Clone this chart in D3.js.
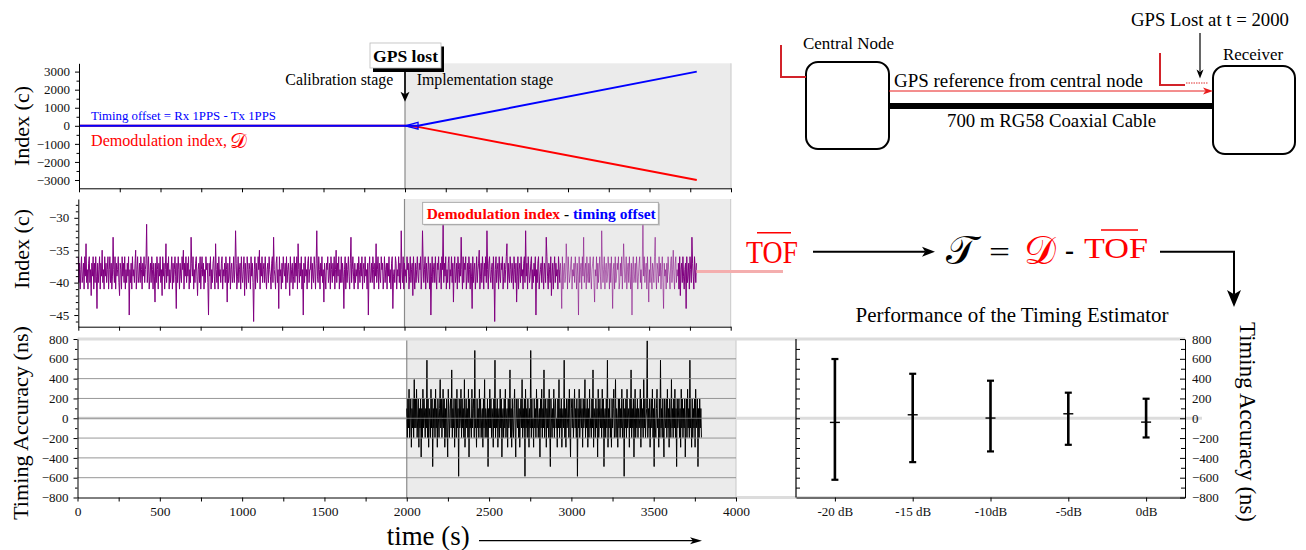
<!DOCTYPE html>
<html><head><meta charset="utf-8">
<script src="https://cdn.jsdelivr.net/npm/d3@7"></script>
<style>
html,body{margin:0;padding:0;background:#fff;}
svg{display:block;font-family:"Liberation Serif","Times New Roman",serif;}
</style></head><body>
<svg id="fig" width="1306" height="550"></svg>
<script>
// ---------------- data ----------------
const gpsLostAt = 2000;      // s, GPS reference removed
const runEnd = 3790;         // s, last recorded sample
const timeTicks = [0, 500, 1000, 1500, 2000, 2500, 3000, 3500, 4000];

// Top panel: timing offset (blue) and demodulation index (red), clock counts
const offsetT = [0, 2000, 2080, 3790];
const offsetV = [0, 0, 0, 3000];
const demodT  = [0, 2000, 2080, 3790];
const demodV  = [0, 0, -60, -3000];
const topTicks = [-3000, -2000, -1000, 0, 1000, 2000, 3000];

// Middle panel: demodulation index - timing offset (counts), evenly sampled over [0, runEnd]
const diffValues = [
-36,-40,-37,-41,-38,-36,-40,-39,-37,-41,-36,-39,-34,-40,-38,-41,-37,-36,-40,-38,-42,-37,-39,-36,
-41,-37,-40,-36,-39,-44,-37,-40,-38,-36,-41,-37,-39,-35,-40,-38,-41,-36,-39,-37,-40,-38,-36,-41,
-38,-36,-40,-37,-41,-39,-33,-38,-40,-36,-41,-37,-39,-38,-36,-40,-42,-37,-38,-41,-36,-39,-37,-40,
-36,-41,-38,-40,-37,-39,-36,-45,-38,-40,-37,-41,-36,-39,-38,-40,-37,-35,-41,-38,-36,-40,-39,-37,
-40,-36,-38,-41,-37,-39,-36,-40,-38,-37,-31,-40,-38,-36,-41,-39,-37,-40,-36,-38,-41,-37,-39,-43,
-37,-40,-36,-38,-41,-37,-39,-36,-40,-38,-42,-36,-39,-37,-41,-38,-34,-40,-37,-39,-36,-41,-38,-40,
-38,-36,-41,-37,-40,-38,-36,-39,-44,-37,-40,-36,-38,-41,-37,-39,-40,-36,-38,-35,-41,-37,-39,-36,
-40,-37,-39,-36,-41,-38,-40,-33,-37,-39,-36,-41,-38,-40,-37,-36,-39,-42,-38,-37,-40,-36,-41,-38,
-36,-39,-37,-41,-38,-40,-36,-38,-37,-40,-45,-37,-39,-36,-41,-38,-40,-37,-36,-39,-41,-34,-38,-40,
-37,-41,-36,-39,-38,-40,-37,-36,-41,-38,-39,-37,-40,-36,-38,-43,-37,-40,-39,-36,-41,-38,-37,-40,
-39,-36,-40,-38,-32,-37,-41,-39,-36,-40,-38,-37,-41,-36,-39,-40,-38,-36,-42,-37,-39,-41,-36,-38,
-40,-37,-38,-41,-36,-39,-37,-40,-46,-38,-36,-41,-37,-39,-40,-36,-38,-35,-41,-37,-39,-36,-40,-38,
-37,-40,-36,-39,-41,-38,-37,-40,-36,-38,-39,-41,-37,-36,-40,-33,-38,-39,-41,-37,-36,-40,-38,-44,
-36,-39,-38,-41,-37,-40,-36,-38,-39,-37,-41,-36,-40,-38,-37,-39,-42,-36,-40,-38,-37,-41,-39,-36,
-40,-37,-39,-36,-41,-34,-38,-40,-37,-39,-36,-41,-38,-45,-37,-40,-36,-39,-38,-41,-37,-36,-40,-38,
-38,-36,-41,-37,-39,-40,-36,-38,-41,-37,-32,-39,-40,-36,-38,-41,-37,-39,-36,-40,-38,-43,-37,-39,
-41,-37,-38,-36,-40,-39,-37,-41,-36,-38,-40,-37,-39,-36,-41,-38,-35,-40,-37,-39,-36,-41,-38,-40,
-36,-40,-37,-39,-44,-38,-36,-41,-37,-40,-38,-36,-39,-41,-37,-33,-40,-38,-36,-39,-41,-37,-40,-38,
-39,-37,-41,-36,-38,-40,-37,-39,-36,-41,-38,-37,-40,-36,-39,-38,-41,-37,-45,-38,-36,-40,-39,-37,
-40,-36,-38,-41,-37,-39,-34,-40,-38,-36,-41,-37,-39,-40,-36,-38,-37,-41,-39,-36,-40,-38,-37,-41,
-37,-39,-36,-40,-38,-41,-37,-36,-44,-39,-38,-40,-36,-37,-41,-38,-39,-36,-40,-37,-41,-32,-38,-40,
-36,-41,-37,-39,-38,-40,-36,-38,-37,-41,-39,-36,-40,-38,-37,-42,-36,-39,-41,-37,-40,-38,-36,-39,
-40,-37,-38,-36,-41,-39,-32,-37,-40,-38,-36,-41,-37,-39,-40,-36,-38,-41,-37,-45,-39,-36,-40,-38,
-37,-40,-36,-39,-41,-37,-38,-36,-40,-39,-37,-41,-36,-38,-31,-40,-37,-39,-36,-41,-38,-40,-37,-36,
-41,-38,-39,-36,-40,-37,-43,-38,-36,-40,-39,-37,-41,-36,-38,-40,-37,-39,-33,-38,-41,-36,-40,-37,
-38,-36,-41,-39,-37,-40,-36,-38,-41,-37,-39,-44,-36,-40,-38,-37,-41,-39,-36,-40,-38,-37,-35,-41,
-39,-37,-40,-36,-38,-41,-37,-39,-36,-40,-32,-38,-41,-37,-36,-39,-40,-38,-37,-41,-36,-39,-46,-38,
-36,-40,-38,-37,-41,-36,-39,-40,-37,-38,-36,-41,-39,-37,-40,-38,-36,-34,-41,-37,-39,-40,-36,-38,
-40,-37,-39,-41,-36,-38,-40,-37,-43,-39,-36,-41,-38,-37,-40,-36,-39,-38,-41,-37,-36,-40,-32,-39,
-37,-41,-36,-38,-40,-39,-37,-36,-41,-38,-40,-37,-39,-36,-45,-38,-40,-37,-36,-41,-39,-38,-37,-40,
-36,-39,-41,-37,-38,-40,-33,-36,-39,-41,-37,-38,-40,-36,-42,-39,-37,-41,-38,-36,-40,-37,-39,-38,
-41,-36,-38,-40,-37,-39,-44,-36,-41,-38,-37,-40,-39,-34,-37,-41,-36,-38,-40,-39,-37,-36,-41,-38,
-39,-37,-40,-36,-38,-41,-37,-39,-45,-36,-40,-38,-37,-41,-36,-39,-33,-40,-38,-37,-41,-36,-39,-40,
-37,-40,-36,-39,-41,-38,-37,-36,-40,-43,-38,-39,-36,-41,-37,-40,-38,-36,-39,-41,-32,-37,-40,-38,
-36,-41,-38,-37,-40,-39,-36,-38,-41,-37,-40,-36,-39,-44,-38,-37,-41,-36,-40,-39,-37,-38,-36,-41,
-40,-37,-39,-36,-41,-38,-34,-37,-40,-39,-36,-41,-38,-37,-40,-36,-39,-41,-37,-45,-38,-36,-40,-39,
-37,-40,-36,-38,-41,-39,-37,-36,-40,-38,-41,-37,-29,-39,-36,-40,-38,-37,-41,-36,-39,-43,-38,-40,
-36,-39,-41,-37,-38,-40,-36,-33,-39,-41,-37,-38,-40,-36,-39,-37,-41,-38,-36,-40,-44,-37,-39,-38,
-41,-37,-40,-36,-38,-39,-41,-37,-36,-40,-38,-35,-39,-41,-37,-36,-40,-38,-39,-37,-41,-36,-42,-38,
-37,-40,-36,-39,-41,-38,-37,-44,-36,-40,-39,-37,-41,-36,-38,-40,-33,-37,-39,-41,-36,-38,-40,-37
];
const tofMean = -38.3;                 // mean of the calibration-stage difference
const fadedSpan = [2950, 3680];        // stretch drawn with reduced opacity
const midTicks = [-45, -40, -35, -30];

// Bottom panel: timing error (ns), evenly sampled over [gpsLostAt, runEnd]
const errValues = [
98,-195,195,-98,293,-195,0,195,-293,98,-98,195,-195,391,-98,195,
-98,293,-195,0,195,-293,98,-98,195,-391,98,-195,293,-98,195,0,
-195,98,-98,586,-195,195,-293,98,0,-195,293,-98,195,-488,98,-98,
195,-195,293,-98,98,-293,195,0,-195,98,391,-98,195,-195,0,293,
-98,195,-293,98,-195,195,-98,-391,293,0,-195,98,195,-98,488,-195,
98,-98,195,-293,0,195,-195,293,-98,98,-586,195,-98,0,293,-195,
195,-98,98,-195,391,-293,0,195,-98,98,-195,293,-391,195,-98,0,
-195,293,-98,98,195,-195,684,-98,0,-293,195,-98,98,-195,293,-98,
195,-195,0,98,-293,195,-98,391,-195,98,0,-195,195,-488,98,-98,
293,-98,195,-195,98,0,-293,195,-98,586,-195,98,-98,195,-293,0,
98,-195,293,-98,195,-391,0,98,-195,195,-98,293,-195,0,98,-293,
195,-98,0,488,-195,98,-293,195,-98,-195,98,293,-98,-391,195,0,
-98,195,-195,98,-293,0,195,-98,391,-195,98,-98,195,-586,293,-98,
98,-195,195,0,-293,98,-98,684,-195,195,-98,0,-293,195,-98,98,
-195,293,-98,195,-195,0,98,-391,195,-98,293,-195,98,-98,488,-195,
0,195,-293,98,-98,195,-195,293,-98,-488,195,0,-195,98,-98,293,
-195,98,195,-98,0,-293,195,-98,391,-195,98,-98,195,-293,0,98,
-98,586,-195,98,-293,195,-98,0,195,-195,293,-98,-391,195,98,-98,
195,-195,0,293,-98,98,-195,195,-586,98,-98,293,-195,0,195,-98,
98,-293,195,-98,0,391,-195,98,-98,195,-293,98,-195,293,-98,0,
-195,195,-98,488,-293,98,0,-195,195,-98,98,-391,293,-195,0,195,
-98,98,-195,293,-98,195,-488,0,98,-195,195,-98,586,-293,98,-98,
195,-195,0,-293,195,-98,98,293,-195,-98,391,-195,98,0,-293,195,
-98,195,-195,98,-98,293,-195,0,195,-586,98,-98,195,-195,293,-98,
0,98,-293,195,-98,488,-195,98,-98,195,-391,0,293,-195,98,-98,
195,-195,98,-98,0,293,-293,195,-98,98,-195,391,-98,195,-195,0,
98,781,-195,98,-98,195,-293,0,195,-98,293,-195,98,-488,195,-98,
-195,98,293,-98,0,-293,195,-195,586,-98,98,-195,195,-98,-391,195,
0,-98,195,-195,293,-98,98,-293,195,0,-195,391,-98,98,-195,195,
-98,293,-195,98,-488,195,-98,0,195,-195,98,-293,293,-98,195,-195,
98,-98,195,-391,0,195,-195,293,-98,98,-195,586,-98,0,-293,195,
-195,98,-98,195,-293,293,-98,0,195,-488,98,-195,195,-98,98,-195
];
const botTicks = [-800, -600, -400, -200, 0, 200, 400, 600, 800];

// Right panel: timing error statistics per SNR (ns)
const snrLabels = ["-20 dB", "-15 dB", "-10dB", "-5dB", "0dB"];
const errMean = [-42, 35, 2, 45, -39];
const errHigh = [598, 449, 379, 258, 197];
const errLow  = [-621, -443, -335, -268, -194];

// ---------------- scales ----------------
const xTop = d3.scaleLinear([0, 4000], [79, 731]);
const yTop = d3.scaleLinear([-3460, 3460], [188.3, 63.3]);
const xMid = d3.scaleLinear([0, 4000], [78.3, 730.7]);
const yMid = d3.scaleLinear([-46.8, -27.1], [326.7, 199]);
const xBot = d3.scaleLinear([0, 4000], [77.5, 736]);
const yBot = d3.scaleLinear([-800, 800], [497.5, 339]);
const xSnr = d3.scalePoint(snrLabels, [796, 1185]).padding(0.5);
const fmt = d3.format("d");

const svg = d3.select("#fig");

// ---------------- helpers ----------------
function label(sel, s, o) {
  const t = sel.append("text").attr("x", o.x).attr("y", o.y)
    .attr("font-size", o.size).text(s);
  if (o.fill) t.attr("fill", o.fill);
  if (o.anchor) t.attr("text-anchor", o.anchor);
  if (o.weight) t.attr("font-weight", o.weight);
  if (o.width) t.attr("textLength", o.width).attr("lengthAdjust", "spacingAndGlyphs");
  if (o.rotate) t.attr("transform", `rotate(${o.rotate},${o.x},${o.y})`);
  if (o.family) t.attr("font-family", o.family);
  return t;
}
function styleAxis(g, size) {
  g.attr("font-family", null).attr("font-size", null);
  g.selectAll("text").attr("font-size", size || 13).attr("fill", "#111");
  g.selectAll("line,path").attr("stroke", "#000");
}
function head(g, tipX, tipY, dx, dy, len, half, fill) {
  // filled arrow head pointing along (dx,dy)
  const bx = tipX - dx * len, by = tipY - dy * len;
  const px = -dy * half, py = dx * half;
  g.append("path")
    .attr("d", `M${tipX},${tipY}L${bx + px},${by + py}L${bx + dx * len * 0.25},${by + dy * len * 0.25}L${bx - px},${by - py}Z`)
    .attr("fill", fill || "#000");
}
function line(g, x1, y1, x2, y2, stroke, w, extra) {
  const l = g.append("line").attr("x1", x1).attr("y1", y1).attr("x2", x2).attr("y2", y2)
    .attr("stroke", stroke).attr("stroke-width", w);
  if (extra) extra(l);
  return l;
}
function shade(g, x, y) {
  const [x0, x1] = [x(gpsLostAt), x(4000)];
  const [y0, y1] = y.range();
  g.append("rect").attr("x", x0).attr("y", y1).attr("width", x1 - x0).attr("height", y0 - y1)
    .attr("fill", "#ebebeb");
  line(g, x1, y1, x1, y0, "#c8c8c8", 1);
}
function gpsLine(g, x, y) {
  const [y0, y1] = y.range();
  line(g, x(gpsLostAt), y1, x(gpsLostAt), y0, "#8a8a8a", 1.2);
}
function xAxis(g, x, yPos, labelled) {
  const major = d3.axisBottom(x).tickValues(timeTicks).tickSize(4).tickPadding(5)
    .tickSizeOuter(0).tickFormat(labelled ? fmt : "");
  const ga = g.append("g").attr("transform", `translate(0,${yPos})`).call(major);
  styleAxis(ga, 13.5);
  const gm = g.append("g").attr("transform", `translate(0,${yPos})`)
    .call(d3.axisBottom(x).tickValues(d3.range(250, 4000, 500)).tickSize(4).tickFormat(""));
  gm.select(".domain").remove();
  styleAxis(gm);
}
function yAxis(g, y, xPos, ticks, minor) {
  const ga = g.append("g").attr("transform", `translate(${xPos},0)`)
    .call(d3.axisLeft(y).tickValues(ticks).tickSize(4).tickPadding(5).tickSizeOuter(0).tickFormat(fmt));
  styleAxis(ga);
  const gm = g.append("g").attr("transform", `translate(${xPos},0)`)
    .call(d3.axisLeft(y).tickValues(minor).tickSize(2.5).tickFormat(""));
  gm.select(".domain").remove();
  styleAxis(gm);
}

// ================= TOP PANEL =================
const gT = svg.append("g");
shade(gT, xTop, yTop);
gpsLine(gT, xTop, yTop);
const lineTop = d3.line().x(d => xTop(d[0])).y(d => yTop(d[1]));
gT.append("path").datum(d3.zip(demodT, demodV)).attr("d", lineTop)
  .attr("fill", "none").attr("stroke", "#ff0000").attr("stroke-width", 2);
gT.append("path").datum(d3.zip(offsetT, offsetV)).attr("d", lineTop)
  .attr("fill", "none").attr("stroke", "#0000ff").attr("stroke-width", 2);
// small open marker where the two traces separate
gT.append("path")
  .attr("d", `M${xTop(2000)},${yTop(0)}L${xTop(2080)},${yTop(190)}L${xTop(2080)},${yTop(-190)}Z`)
  .attr("fill", "none").attr("stroke", "#0000ff").attr("stroke-width", 1.3);
yAxis(gT, yTop, 79, topTicks, [-2500, -1500, -500, 500, 1500, 2500]);
xAxis(gT, xTop, 188.3, false);
label(gT, "Index (c)", {x: 29, y: 126, size: 22, anchor: "middle", rotate: -90, width: 80});
label(gT, "Timing offset = Rx 1PPS - Tx 1PPS", {x: 91, y: 120, size: 12.8, fill: "#0000ff", width: 185});
label(gT, "Demodulation index,", {x: 91, y: 146, size: 16.5, fill: "#ff0000", width: 136});
label(gT, "\u{1D49F}", {x: 230, y: 148, size: 21, fill: "#ff0000",
  family: '"DejaVu Serif","DejaVu Sans","Noto Sans",serif'});
label(gT, "Calibration stage", {x: 393.3, y: 85, size: 16, anchor: "end", width: 108});
label(gT, "Implementation stage", {x: 416.7, y: 85, size: 16, width: 136.7});
// "GPS lost" callout with drop shadow and arrow
gT.append("rect").attr("x", 373).attr("y", 46.5).attr("width", 71).attr("height", 25.5).attr("fill", "#000");
gT.append("rect").attr("x", 370).attr("y", 43).attr("width", 71).attr("height", 25)
  .attr("fill", "#fff").attr("stroke", "#bbb").attr("stroke-width", 0.8);
label(gT, "GPS lost", {x: 405.5, y: 61.5, size: 17.5, weight: "bold", anchor: "middle", width: 65});
line(gT, xTop(gpsLostAt), 72, xTop(gpsLostAt), 94, "#000", 1.6);
head(gT, xTop(gpsLostAt), 101.7, 0, 1, 10, 4.5);

// ================= MIDDLE PANEL =================
const gM = svg.append("g");
shade(gM, xMid, yMid);
gpsLine(gM, xMid, yMid);
const dtMid = runEnd / (diffValues.length - 1);
const diffPts = diffValues.map((v, i) => [i * dtMid, v]);
const lineMid = d3.line().x(d => xMid(d[0])).y(d => yMid(d[1]));
const segs = [[0, fadedSpan[0], 1], [fadedSpan[0], fadedSpan[1], 0.55], [fadedSpan[1], runEnd, 1]];
segs.forEach(([a, b, op]) => {
  gM.append("path").datum(diffPts.filter(d => d[0] >= a - dtMid && d[0] <= b + dtMid))
    .attr("d", lineMid).attr("fill", "none").attr("stroke", "#800080")
    .attr("stroke-width", 1).attr("stroke-opacity", op);
});
// mean of the difference carried over to the estimator
line(gM, xMid(runEnd), yMid(tofMean), 783, yMid(tofMean), "#f4aeae", 3);
yAxis(gM, yMid, 78.3, midTicks, d3.range(-46, -27, 1).filter(v => v % 5 !== 0));
xAxis(gM, xMid, 326.7, false);
label(gM, "Index (c)", {x: 29, y: 249, size: 22, anchor: "middle", rotate: -90, width: 80});
gM.append("rect").attr("x", 424).attr("y", 203.5).attr("width", 236).attr("height", 22).attr("fill", "#aaa").attr("opacity", 0.6);
gM.append("rect").attr("x", 422.7).attr("y", 202.3).attr("width", 235.6).attr("height", 22)
  .attr("fill", "#fff").attr("stroke", "#999").attr("stroke-width", 0.8);
const leg = label(gM, "", {x: 426.7, y: 218.5, size: 15.5, weight: "bold", width: 229});
leg.append("tspan").attr("fill", "#ff0000").text("Demodulation index");
leg.append("tspan").attr("fill", "#000").text(" - ");
leg.append("tspan").attr("fill", "#0000ff").text("timing offset");

// ================= BOTTOM PANEL =================
const gB = svg.append("g");
shade(gB, xBot, yBot);
gpsLine(gB, xBot, yBot);
// light reference bands shared with the SNR panel
line(gB, 77.5, yBot(800), 1185, yBot(800), "#dcdcdc", 3);
line(gB, 77.5, yBot(0), 1202, yBot(0), "#dcdcdc", 3);
line(gB, 736, yBot(-800), 1185, yBot(-800), "#dcdcdc", 3);
const dtBot = (runEnd - gpsLostAt) / (errValues.length - 1);
const errPts = errValues.map((v, i) => [gpsLostAt + i * dtBot, v]);
gB.append("path").datum(errPts)
  .attr("d", d3.line().x(d => xBot(d[0])).y(d => yBot(d[1])))
  .attr("fill", "none").attr("stroke", "#000").attr("stroke-width", 1);
botTicks.filter(v => Math.abs(v) < 800).forEach(v => {
  line(gB, 77.5, yBot(v), 736, yBot(v), "#858585", 1, l => l.attr("stroke-opacity", 0.85));
});
yAxis(gB, yBot, 77.5, botTicks, d3.range(-700, 800, 200));
xAxis(gB, xBot, 497.5, true);
label(gB, "Timing Accuracy (ns)", {x: 28, y: 423, size: 22, anchor: "middle", rotate: -90, width: 194});
label(gB, "time (s)", {x: 386.7, y: 545, size: 27, width: 83});
line(gB, 479, 540.7, 694, 540.7, "#000", 1.2);
head(gB, 702, 540.7, 1, 0, 12, 3.5);

// ================= SNR PANEL =================
const gR = svg.append("g");
line(gR, 796, yBot(800), 796, yBot(-800), "#000", 1.2);
const gl = gR.append("g").attr("transform", "translate(796,0)")
  .call(d3.axisRight(yBot).tickValues(d3.range(-700, 800, 100)).tickSize(4).tickFormat(""));
gl.select(".domain").remove(); styleAxis(gl);
const gr = gR.append("g").attr("transform", "translate(1185,0)")
  .call(d3.axisRight(yBot).tickValues(botTicks).tickSize(-5).tickPadding(7).tickSizeOuter(0).tickFormat(fmt));
styleAxis(gr);
const grm = gR.append("g").attr("transform", "translate(1185,0)")
  .call(d3.axisRight(yBot).tickValues(d3.range(-700, 800, 200)).tickSize(-4).tickFormat(""));
grm.select(".domain").remove(); styleAxis(grm);
const gbx = gR.append("g").attr("transform", `translate(0,${yBot(-800)})`)
  .call(d3.axisBottom(xSnr).tickSize(4).tickPadding(5).tickSizeOuter(0));
styleAxis(gbx);
snrLabels.forEach((c, i) => {
  const x = xSnr(c);
  line(gR, x, yBot(errHigh[i]), x, yBot(errLow[i]), "#000", 2.6);
  line(gR, x - 3.5, yBot(errHigh[i]), x + 3.5, yBot(errHigh[i]), "#000", 2.2);
  line(gR, x - 3.5, yBot(errLow[i]), x + 3.5, yBot(errLow[i]), "#000", 2.2);
  line(gR, x - 5, yBot(errMean[i]), x + 5, yBot(errMean[i]), "#000", 1.4);
});
label(gR, "Performance of the Timing Estimator", {x: 1012, y: 322, size: 21, anchor: "middle", width: 313});
label(gR, "Timing Accuracy (ns)", {x: 1240, y: 422, size: 22.5, anchor: "middle", rotate: 90, width: 200});

// ================= ESTIMATOR EQUATION =================
const gE = svg.append("g");
label(gE, "TOF", {x: 746, y: 263, size: 32, fill: "#ff0000", width: 52});
line(gE, 757, 232.7, 791, 232.7, "#ff0000", 1.5);
line(gE, 813, 251.7, 925, 251.7, "#000", 2);
head(gE, 935, 251.7, 1, 0, 13, 5);
label(gE, "\u{1D4AF}", {x: 946, y: 264, size: 40, fill: "#000",
  family: '"DejaVu Serif","DejaVu Sans","Noto Sans",serif'});
label(gE, "=", {x: 989, y: 262, size: 30, width: 21});
label(gE, "\u{1D49F}", {x: 1024, y: 264, size: 40, fill: "#ff0000",
  family: '"DejaVu Serif","DejaVu Sans","Noto Sans",serif'});
label(gE, "-", {x: 1065, y: 259, size: 28, weight: "bold", width: 9});
label(gE, "TOF", {x: 1084, y: 258.3, size: 30, fill: "#ff0000", width: 64});
line(gE, 1101, 230, 1138, 230, "#ff0000", 1.5);
gE.append("path").attr("d", "M1160,251.7H1234V294").attr("fill", "none").attr("stroke", "#000").attr("stroke-width", 2);
head(gE, 1234, 307, 0, 1, 17, 7);

// ================= LINK DIAGRAM =================
const gD = svg.append("g");
gD.append("rect").attr("x", 806).attr("y", 62).attr("width", 83).attr("height", 87).attr("rx", 12)
  .attr("fill", "#fff").attr("stroke", "#000").attr("stroke-width", 2);
gD.append("rect").attr("x", 1213).attr("y", 66).attr("width", 82).attr("height", 88).attr("rx", 12)
  .attr("fill", "#fff").attr("stroke", "#000").attr("stroke-width", 2);
gD.append("rect").attr("x", 889).attr("y", 103).attr("width", 324).attr("height", 6).attr("fill", "#000");
gD.append("path").attr("d", "M781,45V77H806").attr("fill", "none").attr("stroke", "#d2232a").attr("stroke-width", 2);
gD.append("path").attr("d", "M1160,53V85H1185").attr("fill", "none").attr("stroke", "#d2232a").attr("stroke-width", 2);
line(gD, 1186, 83, 1208, 83, "#e03030", 1, l => l.attr("stroke-dasharray", "1.5,1"));
line(gD, 889, 91, 1205, 91, "#e81c1c", 1);
head(gD, 1213, 91, 1, 0, 10, 3.5, "#e81c1c");
line(gD, 1200, 33, 1200, 71, "#000", 1.2);
head(gD, 1200, 78.5, 0, 1, 9, 3.5);
label(gD, "Central Node", {x: 803, y: 49, size: 17, width: 91});
label(gD, "Receiver", {x: 1223, y: 60, size: 17, width: 60});
label(gD, "GPS Lost at t = 2000", {x: 1131, y: 26, size: 17.8, width: 158});
label(gD, "GPS reference from central node", {x: 894, y: 87, size: 18.9, width: 249});
label(gD, "700 m RG58 Coaxial Cable", {x: 947, y: 127, size: 18.8, width: 209});
</script>
</body></html>
